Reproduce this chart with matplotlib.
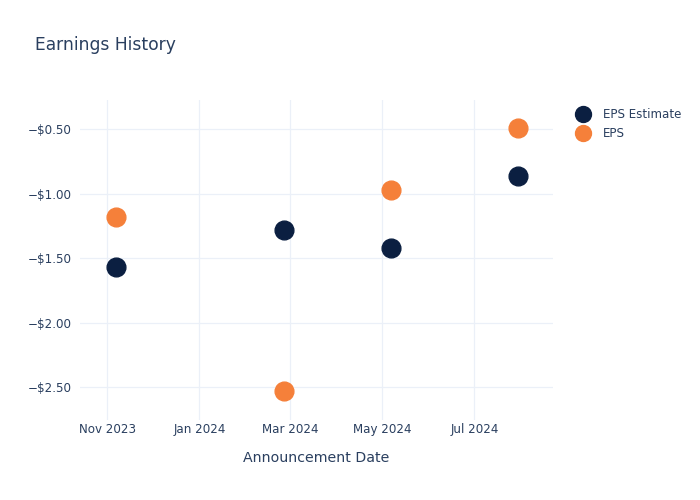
import matplotlib
matplotlib.use("Agg")
import matplotlib.pyplot as plt
import matplotlib.dates as mdates
from matplotlib.ticker import FuncFormatter
import datetime as dt

dates = ["2023-11-07", "2024-02-26", "2024-05-07", "2024-07-30"]
eps_estimate = [-1.57, -1.28, -1.42, -0.86]
eps_actual = [-1.18, -2.53, -0.97, -0.49]
tick_dates = ["2023-11-01", "2024-01-01", "2024-03-01", "2024-05-01", "2024-07-01"]
tick_labels = ["Nov 2023", "Jan 2024", "Mar 2024", "May 2024", "Jul 2024"]
y_ticks = [-0.5, -1.0, -1.5, -2.0, -2.5]

TXT = "#2a3f5f"
GRID = "#ebf0f8"
NAVY = "#0b1f41"
ORANGE = "#f5803a"

plt.rcParams["font.family"] = ["DejaVu Sans"]

x = [dt.datetime.strptime(d, "%Y-%m-%d") for d in dates]
xt = [dt.datetime.strptime(d, "%Y-%m-%d") for d in tick_dates]

fig = plt.figure(figsize=(7, 5), dpi=100)
ax = fig.add_axes([80/700, 80/500, 473/700, 320/500])

ax.plot(x, eps_estimate, 'o', color=NAVY, markersize=13.5, label="EPS Estimate", zorder=3)
ax.plot(x, eps_actual, 'o', color=ORANGE, markersize=13.5, label="EPS", zorder=3)

ax.set_xlim(dt.datetime(2023, 10, 14), dt.datetime(2024, 8, 22))
ax.set_ylim(-2.753, -0.273)
ax.set_xticks(xt)
ax.set_xticklabels(tick_labels)
ax.set_yticks(y_ticks)
ax.yaxis.set_major_formatter(FuncFormatter(lambda v, p: ("\u2212" if v < 0 else "") + "${:.2f}".format(abs(v))))

for s in ax.spines.values():
    s.set_visible(False)
ax.grid(True, color=GRID, linewidth=0.9)
ax.set_axisbelow(True)
ax.tick_params(axis="both", length=0, labelsize=8.6, colors=TXT)
ax.tick_params(axis="x", pad=2)
ax.tick_params(axis="y", pad=6)
ax.set_xlabel("Announcement Date", fontsize=10.2, color=TXT, labelpad=11)

fig.text(35/700, 1 - 44.5/500, "Earnings History", fontsize=12.3, color=TXT, va="center", ha="left")

leg = ax.legend(loc="upper left", bbox_to_anchor=((566 - 80)/473, 1 - 3/320), frameon=False,
                fontsize=8.6, labelcolor=TXT, handletextpad=0.7, borderaxespad=0,
                labelspacing=0.5, markerscale=0.85)

fig.savefig("out.png", dpi=100)
